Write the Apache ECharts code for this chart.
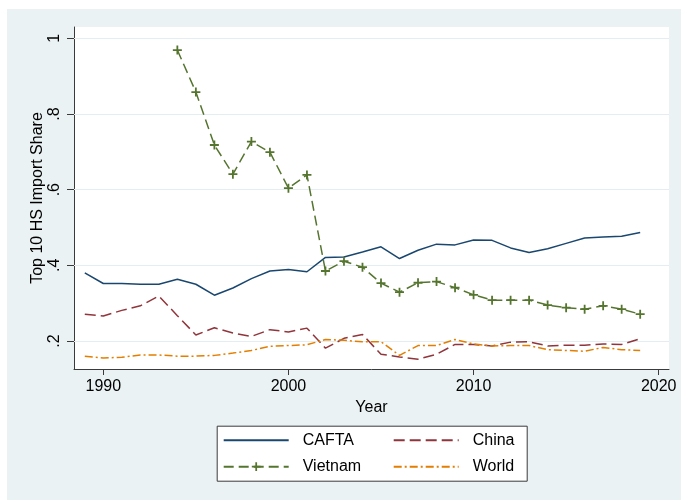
<!DOCTYPE html>
<html>
<head>
<meta charset="utf-8">
<script src="https://cdn.jsdelivr.net/npm/echarts@6/dist/echarts.min.js"></script>
<style>
  html, body { margin: 0; padding: 0; background: #ffffff; }
  #chart { position: absolute; left: 7px; top: 9px; width: 674px; height: 491px; }
</style>
</head>
<body>
<div id="chart"></div>
<script>
const years = [1989,1990,1991,1992,1993,1994,1995,1996,1997,1998,1999,2000,2001,2002,2003,2004,2005,2006,2007,2008,2009,2010,2011,2012,2013,2014,2015,2016,2017,2018,2019];
const cafta = [0.380,0.352,0.352,0.350,0.350,0.363,0.350,0.321,0.340,0.365,0.385,0.389,0.383,0.421,0.422,0.435,0.449,0.418,0.440,0.456,0.454,0.467,0.466,0.446,0.434,0.444,0.458,0.472,0.475,0.477,0.487];
const china = [0.271,0.266,0.281,0.293,0.319,0.267,0.216,0.235,0.221,0.212,0.230,0.224,0.234,0.181,0.207,0.217,0.165,0.158,0.152,0.165,0.191,0.191,0.187,0.197,0.198,0.187,0.189,0.189,0.192,0.191,0.206];
const vietnam = [null,null,null,null,null,0.969,0.858,0.718,0.641,0.727,0.699,0.604,0.639,0.385,0.411,0.395,0.353,0.329,0.354,0.357,0.341,0.322,0.308,0.308,0.308,0.295,0.288,0.284,0.293,0.284,0.271];
const world = [0.160,0.155,0.157,0.163,0.163,0.160,0.160,0.162,0.168,0.175,0.186,0.188,0.190,0.204,0.202,0.198,0.198,0.162,0.188,0.188,0.204,0.192,0.187,0.188,0.188,0.177,0.175,0.173,0.183,0.177,0.175];
const xTicks = [1990, 2000, 2010, 2020];
const yTicks = [0.2, 0.4, 0.6, 0.8, 1];

const FONT = 'Liberation Sans, Arial, Helvetica, sans-serif';
const AXIS = '#3a3a3a';
const pair = arr => years.map((y, i) => [y, arr[i]]);
const plus = 'path://M4,0H6V4H10V6H6V10H4V6H0V4H4Z';

const chart = echarts.init(document.getElementById('chart'), null, { renderer: 'canvas' });

function legendAt(name, hideSymbol, left, top) {
  const item = { name: name };
  if (hideSymbol) item.itemStyle = { color: 'rgba(0,0,0,0)', borderWidth: 0, opacity: 0 };
  return {
    data: [item], left: left, top: top, orient: 'horizontal', padding: 0,
    itemWidth: 65, itemHeight: 11, selectedMode: false,
    textStyle: { fontFamily: FONT, fontSize: 16, color: '#000', padding: [0, 0, 0, 9] }
  };
}

chart.setOption({
  backgroundColor: '#eaf2f3',
  animation: false,
  grid: { left: 67, top: 18, right: 12, bottom: 131, show: true, backgroundColor: '#ffffff', borderWidth: 0 },
  xAxis: {
    type: 'value', min: 1988.417, max: 2020.557,
    name: 'Year', nameLocation: 'middle', nameGap: 31, nameMoveOverlap: false,
    nameTextStyle: { fontFamily: FONT, fontSize: 16, color: '#000' },
    axisLine: { show: true, lineStyle: { color: AXIS, width: 1 } },
    axisTick: { show: true, length: 6, lineStyle: { color: AXIS }, customValues: xTicks },
    axisLabel: { customValues: xTicks, fontFamily: FONT, fontSize: 16, color: '#000', margin: 10, formatter: v => String(Math.round(v)) },
    splitLine: { show: false }
  },
  yAxis: {
    type: 'value', min: 0.126, max: 1.0299,
    name: 'Top 10 HS Import Share', nameLocation: 'middle', nameGap: 28, nameRotate: 90, nameMoveOverlap: false,
    nameTextStyle: { fontFamily: FONT, fontSize: 16, color: '#000' },
    axisLine: { show: true, lineStyle: { color: AXIS, width: 1 } },
    axisTick: { show: true, length: 7, lineStyle: { color: AXIS }, customValues: yTicks },
    axisLabel: { customValues: yTicks, rotate: 90, fontFamily: FONT, fontSize: 16, color: '#000', margin: 11,
      formatter: v => { const s = String(Math.round(v * 10) / 10); return s.replace(/^0\./, '.'); } },
    splitLine: { show: false }
  },
  legend: [
    legendAt('CAFTA', true, 215.7, 423.3),
    legendAt('China', true, 385.7, 423.3),
    legendAt('Vietnam', false, 215.7, 449.7),
    legendAt('World', true, 385.7, 449.7)
  ],
  graphic: [{
    type: 'rect', left: 209.7, top: 416.7, z: 1,
    shape: { width: 310, height: 55 },
    style: { fill: '#ffffff', stroke: AXIS, lineWidth: 1 }
  }],
  series: [
    {
      name: 'CAFTA', type: 'line', data: pair(cafta), symbol: 'none', z: 3,
      lineStyle: { color: '#1a476f', width: 1.5 }, itemStyle: { color: '#1a476f' },
      markLine: {
        silent: true, symbol: 'none', z: 1, label: { show: false },
        lineStyle: { color: '#e4eef0', width: 1.2, type: 'solid' },
        data: yTicks.map(v => ({ yAxis: v }))
      }
    },
    {
      name: 'China', type: 'line', data: pair(china), symbol: 'none', z: 3,
      lineStyle: { color: '#90353b', width: 1.5, type: [11, 5] }, itemStyle: { color: '#90353b' }
    },
    {
      name: 'Vietnam', type: 'line', data: pair(vietnam), symbol: plus, symbolSize: 9, showSymbol: true, z: 3,
      lineStyle: { color: '#55752f', width: 1.5, type: [10, 5] }, itemStyle: { color: '#55752f' }
    },
    {
      name: 'World', type: 'line', data: pair(world), symbol: 'none', z: 3,
      lineStyle: { color: '#e37e00', width: 1.5, type: [8, 3, 2, 3] }, itemStyle: { color: '#e37e00' }
    }
  ]
});
</script>
</body>
</html>
